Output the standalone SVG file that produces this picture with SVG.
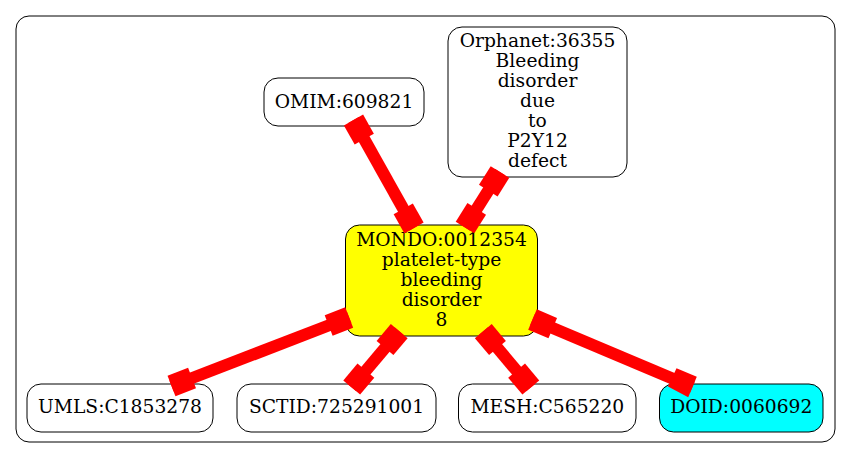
<svg xmlns="http://www.w3.org/2000/svg" width="851" height="459" viewBox="0 0 851 459">
<style>
.cluster{fill:#ffffff;stroke:#000000;stroke-width:1}
.node rect{fill:#ffffff;stroke:#000000;stroke-width:1}
.node text{font-family:"DejaVu Serif",serif;font-size:18.7px;fill:#000000;text-anchor:middle}
.edge line{stroke:#ff0000;stroke-width:12;stroke-linecap:butt}
.edge polygon{fill:#ff0000;stroke:none}
</style>
<rect width="851" height="459" fill="#ffffff"/>
<rect class="cluster" x="16" y="16" width="819" height="426" rx="13" ry="13"/>
<g id="OMIM_609821" class="node">
<rect x="264" y="78" width="160" height="48" rx="14" ry="14"/>
<text x="344" y="107.5">OMIM:609821</text>
</g>
<g id="Orphanet_36355" class="node">
<rect x="448" y="27" width="179" height="150" rx="14" ry="14"/>
<text x="537.5" y="47">Orphanet:36355</text>
<text x="537.5" y="67">Bleeding</text>
<text x="537.5" y="87">disorder</text>
<text x="537.5" y="107">due</text>
<text x="537.5" y="127">to</text>
<text x="537.5" y="147">P2Y12</text>
<text x="537.5" y="167">defect</text>
</g>
<g id="MONDO_0012354" class="node">
<rect x="345.5" y="225" width="192" height="111" rx="14" ry="14" style="fill:#ffff00"/>
<text x="441.5" y="246">MONDO:0012354</text>
<text x="441.5" y="266">platelet-type</text>
<text x="441.5" y="286">bleeding</text>
<text x="441.5" y="306">disorder</text>
<text x="441.5" y="326">8</text>
</g>
<g id="UMLS_C1853278" class="node">
<rect x="27" y="384" width="186" height="48" rx="14" ry="14"/>
<text x="120" y="413">UMLS:C1853278</text>
</g>
<g id="SCTID_725291001" class="node">
<rect x="237" y="384" width="199" height="48" rx="14" ry="14"/>
<text x="336.5" y="413">SCTID:725291001</text>
</g>
<g id="MESH_C565220" class="node">
<rect x="458.5" y="384" width="177.5" height="48" rx="14" ry="14"/>
<text x="547.3" y="413">MESH:C565220</text>
</g>
<g id="DOID_0060692" class="node">
<rect x="659.5" y="384" width="163.5" height="48" rx="14" ry="14" style="fill:#00ffff"/>
<text x="741.3" y="413">DOID:0060692</text>
</g>
<g id="edges" class="edge">
<line x1="353.5" y1="120" x2="414" y2="228"/>
<polygon points="343.9,125.4 363.1,114.6 373.85,133.8 354.65,144.6"/>
<polygon points="404.4,233.4 423.6,222.6 412.85,203.4 393.65,214.2"/>
<line x1="500" y1="172" x2="465" y2="227.5"/>
<polygon points="490.7,166.13 509.3,177.87 497.57,196.48 478.97,184.74"/>
<polygon points="455.7,221.63 474.3,233.37 486.03,214.76 467.43,203.02"/>
<line x1="349.2" y1="317.5" x2="171.5" y2="386"/>
<polygon points="345.24,307.24 353.16,327.76 332.63,335.68 324.71,315.15"/>
<polygon points="167.54,375.74 175.46,396.26 195.99,388.35 188.07,367.82"/>
<line x1="399.2" y1="331.2" x2="351.7" y2="387.5"/>
<polygon points="390.79,324.11 407.61,338.29 393.42,355.1 376.6,340.92"/>
<polygon points="343.29,380.41 360.11,394.59 374.3,377.78 357.48,363.6"/>
<line x1="483.3" y1="331.2" x2="530.8" y2="387.5"/>
<polygon points="474.89,338.29 491.71,324.11 505.9,340.92 489.08,355.1"/>
<polygon points="522.39,394.59 539.21,380.41 525.02,363.6 508.2,377.78"/>
<line x1="532.5" y1="319.5" x2="692.5" y2="387"/>
<polygon points="528.23,329.63 536.78,309.37 557.04,317.92 548.49,338.18"/>
<polygon points="688.23,397.13 696.78,376.87 676.52,368.32 667.97,386.58"/>
</g>
</svg>
